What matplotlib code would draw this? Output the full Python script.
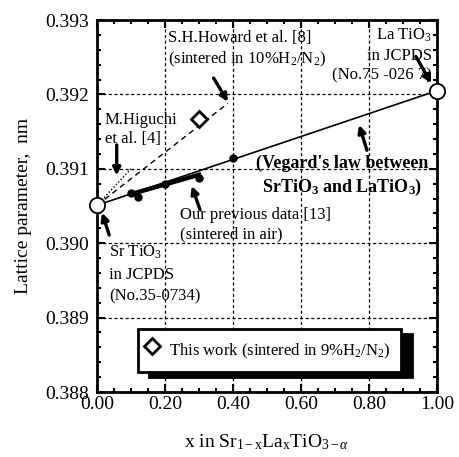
import matplotlib
matplotlib.use('Agg')
import matplotlib.pyplot as plt
from matplotlib.ticker import MultipleLocator, FormatStrFormatter

plt.rcParams['font.family'] = ['Liberation Serif', 'DejaVu Serif']
plt.rcParams['mathtext.fontset'] = 'custom'
plt.rcParams['mathtext.rm'] = 'Liberation Serif'
plt.rcParams['mathtext.it'] = 'Liberation Serif:italic'
plt.rcParams['mathtext.bf'] = 'Liberation Serif:bold'

# end members (JCPDS)
x_end = [0.0, 1.0]
a_end = [0.39051, 0.39205]

# our previous data (sintered in air)
x_prev = [0.10, 0.12, 0.20, 0.30, 0.40]
a_prev = [0.39068, 0.39062, 0.39080, 0.39088, 0.39114]

# fit through previous data
x_fit = [0.10, 0.30]
a_fit = [0.39066, 0.39092]

# literature trends
x_howard = [0.0, 0.385]
a_howard = [0.39051, 0.39188]
x_higuchi = [0.0, 0.10]
a_higuchi = [0.39051, 0.39100]

# this work
x_this = [0.30]
a_this = [0.39167]


def main():
    fig = plt.figure(figsize=(4.59, 4.57), dpi=100)
    ax = fig.add_axes([0.2113, 0.1422, 0.7407, 0.8140])

    ax.grid(True, which='major', color='k', linestyle=(0, (2.5, 2)), lw=0.9)
    ax.set_axisbelow(True)

    ax.plot(x_end, a_end, color='k', lw=1.2, zorder=3)
    ax.plot(x_howard, a_howard, color='k', lw=1.0, ls=(0, (4, 3)), zorder=3)
    ax.plot(x_higuchi, a_higuchi, color='k', lw=1.0, ls=(0, (1, 1.5)), zorder=3)
    ax.plot(x_fit, a_fit, color='k', lw=3.2, zorder=4)
    ax.plot(x_prev, a_prev, 'o', color='k', ms=5, zorder=5)
    ax.plot(x_end, a_end, 'o', mfc='white', mec='k', mew=1.3, ms=11,
            clip_on=False, zorder=6)
    this, = ax.plot(x_this, a_this, 'D', mfc='white', mec='k', mew=2.0,
                    ms=8, zorder=6, label=r'This work (sintered in 9%H$_2$/N$_2$)')

    ax.set_xlim(0, 1.0)
    ax.set_ylim(0.388, 0.393)
    ax.xaxis.set_major_locator(MultipleLocator(0.2))
    ax.xaxis.set_minor_locator(MultipleLocator(0.05))
    ax.yaxis.set_major_locator(MultipleLocator(0.001))
    ax.yaxis.set_minor_locator(MultipleLocator(0.0002))
    ax.xaxis.set_major_formatter(FormatStrFormatter('%.2f'))
    ax.yaxis.set_major_formatter(FormatStrFormatter('%.3f'))
    ax.tick_params(which='both', direction='in', top=True, right=True,
                   labelsize=14, width=1.5)
    ax.tick_params(axis='y', pad=6)
    ax.tick_params(axis='x', pad=3)
    ax.tick_params(which='major', length=6)
    ax.tick_params(which='minor', length=3)
    for s in ax.spines.values():
        s.set_linewidth(2)

    ax.set_xlabel(r'x in Sr$_{\mathrm{1-x}}$La$_{\mathrm{x}}$TiO$_{\mathrm{3-}\alpha}$',
                  fontsize=14, labelpad=14)
    ax.set_ylabel('Lattice parameter,  nm', fontsize=14, labelpad=9)

    fs = 12
    arrow = dict(arrowstyle='-|>', lw=2.4, color='k', mutation_scale=11,
                 shrinkA=0, shrinkB=0)

    ax.text(0.209, 0.392866, 'S.H.Howard et al. [8]\n(sintered in 10%H$_2$/N$_2$)',
            fontsize=fs, ha='left', va='top', linespacing=1.3)
    ax.annotate('', xy=(0.385, 0.39190), xytext=(0.343, 0.39222),
                arrowprops=arrow)

    ax.text(0.0235, 0.391763, 'M.Higuchi\net al. [4]', fontsize=fs,
            ha='left', va='top', linespacing=1.25)
    ax.annotate('', xy=(0.058, 0.39091), xytext=(0.058, 0.39132),
                arrowprops=arrow)

    ax.text(0.985, 0.392906, 'La TiO$_3$\nin JCPDS\n(No.75 -026 7)', fontsize=fs,
            ha='right', va='top', linespacing=1.3, multialignment='right')
    ax.annotate('', xy=(0.983, 0.39215), xytext=(0.938, 0.39251),
                arrowprops=arrow)

    ax.text(0.72, 0.391185, "(Vegard's law between\nSrTiO$_\\mathbf{3}$ and LaTiO$_\\mathbf{3}$)",
            fontsize=13, fontweight='bold', ha='center', va='top',
            linespacing=1.3)
    ax.annotate('', xy=(0.771, 0.39159), xytext=(0.794, 0.39125),
                arrowprops=arrow)

    ax.text(0.244, 0.390487, 'Our previous data [13]\n(sintered in air)',
            fontsize=fs, ha='left', va='top', linespacing=1.3)
    ax.annotate('', xy=(0.279, 0.39077), xytext=(0.303, 0.39045),
                arrowprops=arrow)

    ax.text(0.035, 0.389989, 'Sr TiO$_3$\nin JCPDS\n(No.35-0734)', fontsize=fs,
            ha='left', va='top', linespacing=1.45)
    ax.annotate('', xy=(0.015, 0.39041), xytext=(0.036, 0.39011),
                arrowprops=arrow)

    leg = ax.legend(handles=[this], loc='center', mode='expand',
                    bbox_to_anchor=(0.12, 0.048, 0.774, 0.127),
                    borderaxespad=0,
                    fontsize=fs, handlelength=0.8, handleheight=2.2,
                    handletextpad=0.6, borderpad=0.45,
                    fancybox=False, framealpha=1,
                    shadow={'color': 'k', 'alpha': 1, 'ox': 8, 'oy': -3.5})
    leg.get_frame().set_edgecolor('k')
    leg.get_frame().set_linewidth(2)

    fig.savefig('out.png', dpi=100)


if __name__ == '__main__':
    main()
